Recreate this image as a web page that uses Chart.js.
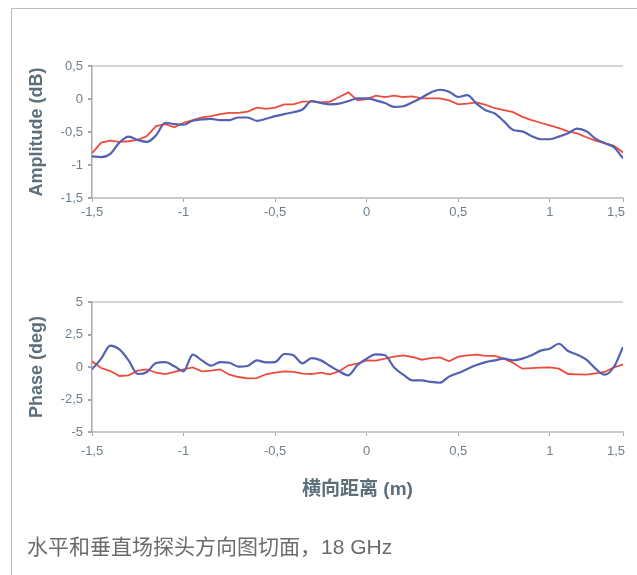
<!DOCTYPE html>
<html><head><meta charset="utf-8">
<script src="https://cdn.jsdelivr.net/npm/chart.js@4.4.1/dist/chart.umd.min.js"></script>
<style>
html,body{margin:0;padding:0;background:#fff;width:637px;height:575px;overflow:hidden;}
#frame{position:absolute;left:11px;top:8px;width:640px;height:600px;border-left:1px solid #b9c0c5;border-top:1px solid #b9c0c5;}
#c1{position:absolute;left:0;top:0;}
#c2{position:absolute;left:0;top:240px;}
#caption{position:absolute;left:27px;top:534px;font-size:21px;font-family:"Liberation Sans","Noto Sans CJK SC",sans-serif;color:#6b6b6b;white-space:nowrap;line-height:26px;}
</style></head><body>
<div id="frame"></div>
<canvas id="c1" width="637" height="225"></canvas>
<canvas id="c2" width="637" height="335"></canvas>
<div id="caption">水平和垂直场探头方向图切面，18 GHz</div>
<script>
// lateral distance (m)
const xPositions = [-1.5,-1.45,-1.4,-1.35,-1.3,-1.25,-1.2,-1.15,-1.1,-1.05,-1,-0.95,-0.9,-0.85,-0.8,-0.75,-0.7,-0.65,-0.6,-0.55,-0.5,-0.45,-0.4,-0.35,-0.3,-0.25,-0.2,-0.15,-0.1,-0.05,0,0.05,0.1,0.15,0.2,0.25,0.3,0.35,0.4,0.45,0.5,0.55,0.6,0.65,0.7,0.75,0.8,0.85,0.9,0.95,1,1.05,1.1,1.15,1.2,1.25,1.3,1.35,1.4];
const xTickValues = [-1.5,-1,-0.5,0,0.5,1,1.4];
const xTickLabels = ['-1,5','-1','-0,5','0','0,5','1','1,5'];

// amplitude (dB)
const ampRed = [-0.82,-0.66,-0.63,-0.65,-0.64,-0.62,-0.56,-0.41,-0.38,-0.43,-0.36,-0.32,-0.28,-0.26,-0.23,-0.21,-0.21,-0.19,-0.13,-0.15,-0.13,-0.08,-0.08,-0.04,-0.04,-0.05,-0.04,0.03,0.10,-0.02,
  0.0,0.05,0.03,0.05,0.03,0.04,0.01,0.01,0.01,-0.02,-0.08,-0.07,-0.05,-0.09,-0.14,-0.17,-0.20,-0.27,-0.32,-0.36,-0.40,-0.44,-0.49,-0.52,-0.58,-0.63,-0.67,-0.71,-0.81];
const ampBlue = [-0.87,-0.88,-0.83,-0.66,-0.57,-0.62,-0.65,-0.55,-0.36,-0.38,-0.39,-0.33,-0.31,-0.30,-0.32,-0.32,-0.28,-0.28,-0.33,-0.30,-0.26,-0.23,-0.20,-0.16,-0.03,-0.06,-0.08,-0.07,-0.03,0.01,
  0.01,-0.02,-0.06,-0.12,-0.11,-0.05,0.02,0.10,0.14,0.11,0.03,0.06,-0.07,-0.17,-0.22,-0.34,-0.47,-0.49,-0.56,-0.61,-0.61,-0.57,-0.52,-0.45,-0.49,-0.60,-0.67,-0.73,-0.90];
const ampTickValues = [-1.5,-1,-0.5,0,0.5];
const ampTickLabels = ['-1,5','-1','-0,5','0','0,5'];

// phase (deg)
const phaseRed = [0.44,-0.08,-0.31,-0.69,-0.64,-0.28,-0.18,-0.44,-0.54,-0.38,-0.18,-0.03,-0.33,-0.28,-0.18,-0.59,-0.77,-0.87,-0.85,-0.56,-0.44,-0.33,-0.38,-0.51,-0.54,-0.44,-0.56,-0.33,0.13,0.26,
  0.51,0.49,0.64,0.79,0.90,0.77,0.56,0.69,0.74,0.44,0.79,0.90,0.95,0.85,0.85,0.64,0.31,-0.13,-0.08,-0.05,-0.03,-0.13,-0.54,-0.56,-0.59,-0.49,-0.38,-0.03,0.18];
const phaseBlue = [-0.18,0.64,1.65,1.36,0.51,-0.54,-0.38,0.31,0.38,0.05,-0.33,0.95,0.51,0.10,0.38,0.33,0.03,0.08,0.51,0.36,0.38,1.00,0.90,0.28,0.69,0.51,0.08,-0.33,-0.64,0.15,
  0.64,0.97,0.90,-0.03,-0.59,-1.03,-1.03,-1.15,-1.21,-0.74,-0.46,-0.15,0.15,0.38,0.51,0.64,0.51,0.64,0.90,1.26,1.41,1.79,1.23,0.95,0.56,-0.13,-0.59,0.0,1.54];
const phaseTickValues = [-5,-2.5,0,2.5,5];
const phaseTickLabels = ['-5','-2,5','0','2,5','5'];

const RED = '#ef4b3c', BLUE = '#5361b0';
const FONT = "'Liberation Sans', Arial, 'Noto Sans CJK SC', sans-serif";
const TICK_COLOR = '#6e7f8a', TITLE_COLOR = '#5c6f7b';

const shiftLastLabel = {
  id: 'shiftLastLabel',
  beforeDraw(chart) {
    const items = chart.scales.x.getLabelItems();
    const last = items[items.length - 1];
    if (last && !last._shifted) { last.options.translation[0] -= 7; last._shifted = true; }
  }
};

function pts(arr) { return xPositions.map((x, i) => ({x: x, y: arr[i]})); }

function makeChart(id, red, blue, yMin, yMax, yVals, yLabels, yTitle, cfg) {
  return new Chart(document.getElementById(id), {
    type: 'line',
    data: { datasets: [
      { data: pts(blue), borderColor: BLUE, borderWidth: 2.2, pointRadius: 0, cubicInterpolationMode: 'monotone', fill: false },
      { data: pts(red), borderColor: RED, borderWidth: 1.8, pointRadius: 0, tension: 0, fill: false }
    ]},
    plugins: [shiftLastLabel],
    options: {
      responsive: false, animation: false, devicePixelRatio: 1,
      layout: { padding: { left: 0, right: 14, top: cfg.top, bottom: 0 } },
      plugins: { legend: { display: false }, tooltip: { enabled: false } },
      scales: {
        x: {
          type: 'linear', min: -1.5, max: 1.4,
          afterBuildTicks: s => { s.ticks = xTickValues.map(v => ({value: v})); },
          ticks: { callback: (v, i) => xTickLabels[i], color: TICK_COLOR, font: { size: 13, family: FONT }, padding: cfg.xPad, maxRotation: 0, autoSkip: false },
          grid: { drawOnChartArea: false, tickLength: 4, tickColor: '#a8a8a8' },
          border: { color: '#c9c9c9', width: 2 },
          title: cfg.xTitle ? { display: true, text: cfg.xTitle, color: TITLE_COLOR, font: { size: 19, weight: 'bold', family: FONT }, padding: { top: 0, bottom: 74 } } : { display: false },
          afterFit: s => { s.height = cfg.xHeight; s.paddingLeft = 0; s.paddingRight = 0; }
        },
        y: {
          type: 'linear', min: yMin, max: yMax,
          afterBuildTicks: s => { s.ticks = yVals.map(v => ({value: v})); },
          ticks: { callback: (v, i) => yLabels[i], color: TICK_COLOR, font: { size: 13, family: FONT }, padding: 5 },
          grid: { drawOnChartArea: true, color: c => (c.tick && c.tick.value === yMax) ? '#d6d6d6' : 'rgba(0,0,0,0)', lineWidth: 2, tickLength: 4, tickColor: '#a8a8a8' },
          border: { color: '#a8a8a8', width: 1.5 },
          title: { display: true, text: yTitle, color: TITLE_COLOR, font: { size: 18, weight: 'bold', family: FONT }, padding: { top: 26, bottom: 0 } },
          afterFit: s => { s.width = 92; s.paddingTop = 0; s.paddingBottom = 0; }
        }
      }
    }
  });
}

makeChart('c1', ampRed, ampBlue, -1.5, 0.5, ampTickValues, ampTickLabels, 'Amplitude (dB)', { top: 66, xHeight: 27, xPad: 3 });
makeChart('c2', phaseRed, phaseBlue, -5, 5, phaseTickValues, phaseTickLabels, 'Phase (deg)', { top: 62, xHeight: 143, xPad: 8, xTitle: '横向距离 (m)' });
</script>
</body></html>
